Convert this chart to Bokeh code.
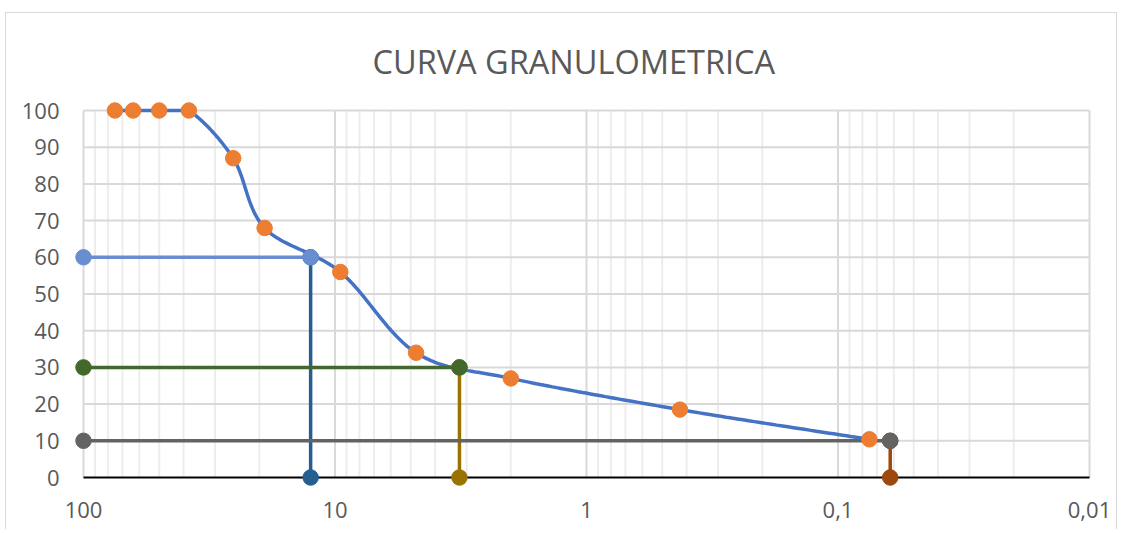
import numpy as np
from bokeh.plotting import figure
from bokeh.models import Range1d, FixedTicker
from bokeh.embed import file_html
from bokeh.resources import INLINE

# ---------------- data ----------------
sieve_mm = [75.0, 63.5, 50.0, 38.1, 25.4, 19.05, 9.525, 4.76, 2.00, 0.425, 0.075]
passing = [100, 100, 100, 100, 87, 68, 56, 34, 27, 18.5, 10.4]
D60_x, D60_y = 12.5, 60
D30_x, D30_y = 3.2, 30
D10_x, D10_y = 0.062, 10
x_start, x_end = 100, 0.01
x_ticks = [100, 10, 1, 0.1, 0.01]
x_tick_labels = ["100", "10", "1", "0,1", "0,01"]
y_ticks = [0, 10, 20, 30, 40, 50, 60, 70, 80, 90, 100]
title_text = "CURVA GRANULOMETRICA"

# ---------------- smoothing (Excel-like bezier) ----------------
def smooth(xs, ys, n=40):
    P = np.column_stack([np.log10(xs), np.array(ys, float)])
    m = len(P)
    out = [P[0]]
    t = np.linspace(0, 1, n)[1:, None]
    for i in range(m - 1):
        p0 = P[i - 1] if i > 0 else P[i]
        p1, p2 = P[i], P[i + 1]
        p3 = P[i + 2] if i + 2 < m else P[i + 1]
        c1 = p1 + (p2 - p0) / 6.0
        c2 = p2 - (p3 - p1) / 6.0
        lo, hi = min(p1[1], p2[1]), max(p1[1], p2[1])
        c1[1] = min(max(c1[1], lo), hi)
        c2[1] = min(max(c2[1], lo), hi)
        seg = (1 - t) ** 3 * p1 + 3 * (1 - t) ** 2 * t * c1 + 3 * (1 - t) * t ** 2 * c2 + t ** 3 * p2
        out.extend(seg)
    out = np.array(out)
    return 10 ** out[:, 0], out[:, 1]

# ---------------- figure ----------------
pad_dec = 10 / 251.5
pad_y = 10 * 100 / 367.0
p = figure(width=1112, height=517, x_axis_type="log",
           x_range=Range1d(10 ** (np.log10(x_start) + pad_dec), 10 ** (np.log10(x_end) - pad_dec)),
           y_range=Range1d(y_ticks[0] - pad_y, y_ticks[-1] + pad_y),
           output_backend="svg", toolbar_location=None,
           min_border_left=67, min_border_right=19, min_border_top=87, min_border_bottom=43)
p.outline_line_color = None
p.xgrid.grid_line_color = None
p.ygrid.grid_line_color = None
p.styles = {"border": "1px solid #D9D9D9", "border-bottom": "none",
            "margin-left": "5px", "margin-top": "12px"}

p.title.text = title_text
p.title.align = "left"
p.title.offset = 299
p.title.text_font = "Open Sans"
p.title.text_font_size = "32.5px"
p.title.text_font_style = "normal"
p.title.text_color = "#595959"
p.title.standoff = 33

# axes
p.xaxis.ticker = FixedTicker(ticks=x_ticks)
p.xaxis.major_label_overrides = {t: l for t, l in zip(x_ticks, x_tick_labels)}
p.yaxis.ticker = FixedTicker(ticks=y_ticks)
for ax in (p.xaxis, p.yaxis):
    ax.axis_line_color = None
    ax.major_tick_line_color = None
    ax.minor_tick_line_color = None
    ax.major_tick_in = 0
    ax.major_tick_out = 0
    ax.minor_tick_in = 0
    ax.minor_tick_out = 0
    ax.major_label_text_font = "Open Sans"
    ax.major_label_text_font_size = "22px"
    ax.major_label_text_color = "#595959"
p.xaxis.major_label_standoff = 14
p.yaxis.major_label_standoff = 14

# grid lines
minor_x = [m * 10.0 ** e for e in range(-2, 2) for m in range(2, 10)]
p.segment(x0=minor_x, y0=[y_ticks[0]] * len(minor_x), x1=minor_x, y1=[y_ticks[-1]] * len(minor_x),
          line_color="#EDEDED", line_width=2)
p.segment(x0=x_ticks, y0=[y_ticks[0]] * len(x_ticks), x1=x_ticks, y1=[y_ticks[-1]] * len(x_ticks),
          line_color="#D9D9D9", line_width=2)
p.segment(x0=[x_start] * 10, y0=y_ticks[1:], x1=[x_end] * 10, y1=y_ticks[1:],
          line_color="#D9D9D9", line_width=2)
# x axis line at y=0
p.segment(x0=[x_start], y0=[0], x1=[x_end], y1=[0], line_color="black", line_width=2.2)

def dline(xs, ys, color):
    p.line(xs, ys, line_color=color, line_width=3.5)
    p.scatter(xs, ys, size=15.5, fill_color=color, line_color=color)

# vertical D lines
dline([D60_x, D60_x], [D60_y, 0], "#255E91")
dline([D30_x, D30_x], [D30_y, 0], "#997300")
dline([D10_x, D10_x], [D10_y, 0], "#9E480E")
# D10 horizontal
dline([x_start, D10_x], [D10_y, D10_y], "#636363")

# curve
sx, sy = smooth(sieve_mm, passing)
p.line(sx, sy, line_color="#4472C4", line_width=3.5)
p.scatter(sieve_mm, passing, size=15.5, fill_color="#ED7D31", line_color="#ED7D31")

# D60, D30 horizontal
dline([x_start, D60_x], [D60_y, D60_y], "#698ED0")
dline([x_start, D30_x], [D30_y, D30_y], "#43682B")

open("out.html", "w").write(file_html(p, INLINE))
